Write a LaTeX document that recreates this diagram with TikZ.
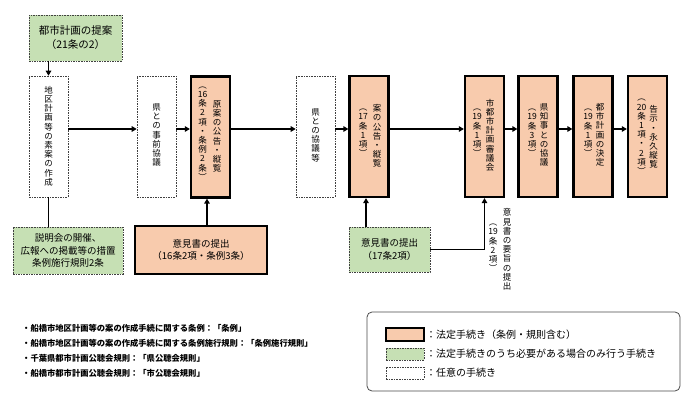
\documentclass[tikz,border=0pt]{standalone}
\usepackage{fontspec}
\setmainfont{Noto Sans CJK JP}
\usetikzlibrary{arrows.meta}
\definecolor{orangefill}{HTML}{F8CBAD}
\definecolor{greenfill}{HTML}{C6E0B4}
\begin{document}
\begin{tikzpicture}[x=1pt,y=-1pt,
  req/.style={draw=black, line width=2.2pt, fill=orangefill, inner sep=0pt},
  opt/.style={draw=black!75, line width=0.6pt, dash pattern=on 1.6pt off 1pt, fill=greenfill, inner sep=0pt},
  free/.style={draw=black!75, line width=0.6pt, dash pattern=on 1.6pt off 1pt, fill=white, inner sep=0pt},
  vbox/.style={minimum width=39pt, minimum height=121pt},
  vtext/.style={font=\fontsize{8.5}{9.2}\selectfont, align=center, inner sep=0pt},
  htext/.style={font=\fontsize{9.5}{12.5}\selectfont, align=center},
  arr/.style={line width=1.8pt, -{Triangle[length=5pt,width=5.5pt]}},
  ln/.style={line width=1.8pt},
  legtext/.style={anchor=west, font=\fontsize{10}{12}\selectfont, inner sep=0pt},
  listtext/.style={anchor=west, font=\bfseries\fontsize{8.3}{10}\selectfont, inner sep=0pt},
]
\useasboundingbox (0,0) rectangle (700,414);
\fill[white] (0,0) rectangle (700,414);
\coordinate (ay) at (0,129);

% top proposal
\node[opt, minimum width=93pt, minimum height=46pt, font=\fontsize{10.5}{14}\selectfont, align=center] (prop) at (75.5,38) {都市計画の提案\\（21条の2）};

% main row boxes
\node[free, vbox] (soan) at (48.5,136.5) {};
\node[vtext] (soanT) at (48.5,136) {地\\区\\計\\画\\等\\の\\素\\案\\の\\作\\成};

\node[free, vbox] (jizen) at (156.5,136.5) {};
\node[vtext] (jizenT) at (156.5,135) {県\\と\\の\\事\\前\\協\\議};

\node[req, vbox] (genan) at (210.5,137) {};
\node[vtext] (genanR) at (217,136.5) {原\\案\\の\\公\\告\\・\\縦\\覧};
\node[vtext] (genanL) at (202.5,133.5) {︵\\16\\条\\2\\項\\・\\条\\例\\2\\条\\︶};

\node[free, vbox] (kyogi) at (315.5,136.5) {};
\node[vtext] (kyogiT) at (315.5,135) {県\\と\\の\\協\\議\\等};

\node[req, vbox] (an) at (369,136.5) {};
\node[vtext] (anR) at (377,136) {案\\の\\公\\告\\・\\縦\\覧};
\node[vtext] (anL) at (363,133) {︵\\17\\条\\1\\項\\︶};

\node[req, vbox] (shin) at (484.5,136.5) {};
\node[vtext] (shinR) at (490,135) {市\\都\\市\\計\\画\\審\\議\\会};
\node[vtext] (shinL) at (477,133) {︵\\19\\条\\1\\項\\︶};

\node[req, vbox] (chiji) at (538,136.5) {};
\node[vtext] (chijiR) at (544,135) {県\\知\\事\\と\\の\\協\\議};
\node[vtext] (chijiL) at (532,133) {︵\\19\\条\\3\\項\\︶};

\node[req, vbox] (kettei) at (593,136.5) {};
\node[vtext] (ketteiR) at (600,135) {都\\市\\計\\画\\の\\決\\定};
\node[vtext] (ketteiL) at (588,133) {︵\\19\\条\\1\\項\\︶};

\node[req, vbox] (kokuji) at (647.5,136.5) {};
\node[vtext] (kokujiR) at (653.5,137) {告\\示\\・\\永\\久\\縦\\覧};
\node[vtext] (kokujiL) at (641.5,137) {︵\\20\\条\\1\\項\\・\\2\\項\\︶};

% bottom boxes
\node[opt, htext, minimum width=110pt, minimum height=47pt] (setsumei) at (68,250.5) {説明会の開催、\\広報への掲載等の措置\\条例施行規則2条};
\node[req, htext, minimum width=132pt, minimum height=48pt] (iken1) at (201,250) {意見書の提出\\（16条2項・条例3条）};
\node[opt, htext, minimum width=81pt, minimum height=45pt] (iken2) at (389.5,249.5) {意見書の提出\\（17条2項）};

% side label
\node[vtext] (yoshi) at (507,249.5) {意\\見\\書\\の\\要\\旨\\の\\提\\出};
\node[vtext] (yoshiP) at (493,248) {︵\\19\\条\\2\\項\\︶};

% connectors
\draw[arr] (prop.south -| soan.north) -- (soan.north);
\draw[arr] (soan.east |- ay) -- (jizen.west |- ay);
\draw[arr] (jizen.east |- ay) -- (genan.west |- ay);
\draw[arr] (genan.east |- ay) -- (kyogi.west |- ay);
\draw[arr] (kyogi.east |- ay) -- (an.west |- ay);
\draw[arr] (an.east |- ay) -- (shin.west |- ay);
\draw[arr] (shin.east |- ay) -- (chiji.west |- ay);
\draw[arr] (chiji.east |- ay) -- (kettei.west |- ay);
\draw[arr] (kettei.east |- ay) -- (kokuji.west |- ay);
\draw[ln] (soan.south) -- (soan.south |- setsumei.north);
\coordinate (c1) at (207,0);
\draw[arr] (iken1.north -| c1) -- (genan.south -| c1);
\coordinate (c2) at (366,0);
\draw[arr] (iken2.north -| c2) -- (an.south -| c2);
\draw[arr] (iken2.east) -- (shin.south |- iken2.east) -- (shin.south);

% list
\node[listtext] (l1) at (22,328) {・船橋市地区計画等の案の作成手続に関する条例：「条例」};
\node[listtext] (l2) at (22,343) {・船橋市地区計画等の案の作成手続に関する条例施行規則：「条例施行規則」};
\node[listtext] (l3) at (22,358) {・千葉県都市計画公聴会規則：「県公聴会規則」};
\node[listtext] (l4) at (22,373) {・船橋市都市計画公聴会規則：「市公聴会規則」};

% legend
\node[draw=black!70, line width=0.8pt, rounded corners=5pt, minimum width=313pt, minimum height=79pt, inner sep=0pt] (legend) at (523.5,351.5) {};
\node[req, line width=2pt, minimum width=38pt, minimum height=13pt] (sw1) at (405,334.5) {};
\node[opt, minimum width=38pt, minimum height=12pt] (sw2) at (405,354) {};
\node[free, minimum width=38pt, minimum height=12pt] (sw3) at (405,373) {};
\node[legtext] (lg1) at (426,334.5) {：法定手続き（条例・規則含む）};
\node[legtext] (lg2) at (426,354) {：法定手続きのうち必要がある場合のみ行う手続き};
\node[legtext] (lg3) at (426,373) {：任意の手続き};
\end{tikzpicture}
\end{document}
